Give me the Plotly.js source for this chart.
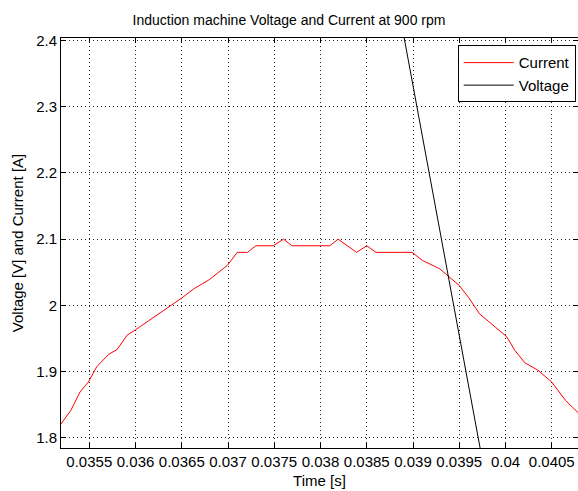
<!DOCTYPE html>
<html>
<head>
<meta charset="utf-8">
<script src="https://cdn.plot.ly/plotly-3.0.1.min.js"></script>
<style>html,body{margin:0;padding:0;background:#fff;}#chart{width:578px;height:491px;}</style>
</head>
<body>
<div id="chart"></div>
<script>
const currentTime = [0.03519, 0.0353, 0.0354, 0.03549, 0.03558, 0.03571, 0.0358, 0.03591, 0.03599, 0.03618, 0.03636, 0.0365, 0.03663, 0.03679, 0.03699, 0.0371, 0.03721, 0.0373, 0.03749, 0.0376, 0.03769, 0.0381, 0.03819, 0.03839, 0.0385, 0.0386, 0.03899, 0.0391, 0.03929, 0.0394, 0.0395, 0.0396, 0.03972, 0.03989, 0.04001, 0.0401, 0.04021, 0.04035, 0.0405, 0.04065, 0.04079];
const currentValues = [1.82, 1.841, 1.869, 1.884, 1.907, 1.926, 1.933, 1.955, 1.962, 1.98, 1.998, 2.011, 2.025, 2.038, 2.06, 2.08, 2.08, 2.09, 2.09, 2.10, 2.09, 2.09, 2.10, 2.08, 2.09, 2.08, 2.08, 2.068, 2.055, 2.042, 2.03, 2.012, 1.987, 1.967, 1.953, 1.932, 1.913, 1.902, 1.884, 1.856, 1.837];
const voltageTime = [0.0388, 0.0392, 0.0396, 0.0400];
const voltageValues = [2.483, 2.181, 1.879, 1.577];
const xTickValues = [0.0355, 0.036, 0.0365, 0.037, 0.0375, 0.038, 0.0385, 0.039, 0.0395, 0.04, 0.0405];
const xTickLabels = ['0.0355', '0.036', '0.0365', '0.037', '0.0375', '0.038', '0.0385', '0.039', '0.0395', '0.04', '0.0405'];
const yTickValues = [1.8, 1.9, 2.0, 2.1, 2.2, 2.3, 2.4];
const yTickLabels = ['1.8', '1.9', '2', '2.1', '2.2', '2.3', '2.4'];

const FONT = 'Liberation Sans, Arial, sans-serif';

const traces = [
  {x: currentTime, y: currentValues, type: 'scatter', mode: 'lines', name: 'Current',
   line: {color: '#ff0000', width: 1}},
  {x: voltageTime, y: voltageValues, type: 'scatter', mode: 'lines', name: 'Voltage',
   line: {color: '#000000', width: 1}}
];

const axisCommon = {
  showline: true, linecolor: '#000', linewidth: 1, mirror: 'ticks',
  ticks: 'inside', ticklen: 5, tickcolor: '#000', tickwidth: 1,
  showgrid: true, gridcolor: '#222', griddash: '1px,3px', gridwidth: 1,
  zeroline: false, tickfont: {family: FONT, size: 15, color: '#000'}
};

const layout = {
  width: 578, height: 491,
  margin: {l: 61, r: 0, t: 38, b: 43, pad: 0},
  paper_bgcolor: '#fff', plot_bgcolor: '#fff',
  font: {family: FONT, color: '#000'},
  title: {text: 'Induction machine Voltage and Current at 900 rpm', x: 0.5, xanchor: 'center', y: 0.96, yanchor: 'middle',
          font: {family: FONT, size: 14, color: '#000'}},
  xaxis: Object.assign({}, axisCommon, {
    range: [0.035194, 0.040784], tickmode: 'array', tickvals: xTickValues, ticktext: xTickLabels,
    title: {text: 'Time [s]', font: {family: FONT, size: 15, color: '#000'}, standoff: 6}
  }),
  yaxis: Object.assign({}, axisCommon, {
    range: [1.7843, 2.404], tickmode: 'array', tickvals: yTickValues, ticktext: yTickLabels,
    title: {text: 'Voltage [V] and Current [A]', font: {family: FONT, size: 15, color: '#000'}, standoff: 8}
  }),
  showlegend: true,
  legend: {x: 0.9956, xanchor: 'right', y: 0.982, yanchor: 'top',
           bgcolor: '#fff', bordercolor: '#000', borderwidth: 1, itemwidth: 50,
           font: {family: FONT, size: 15, color: '#000'}}
};

Plotly.newPlot('chart', traces, layout, {staticPlot: true, displayModeBar: false});
</script>
</body>
</html>
